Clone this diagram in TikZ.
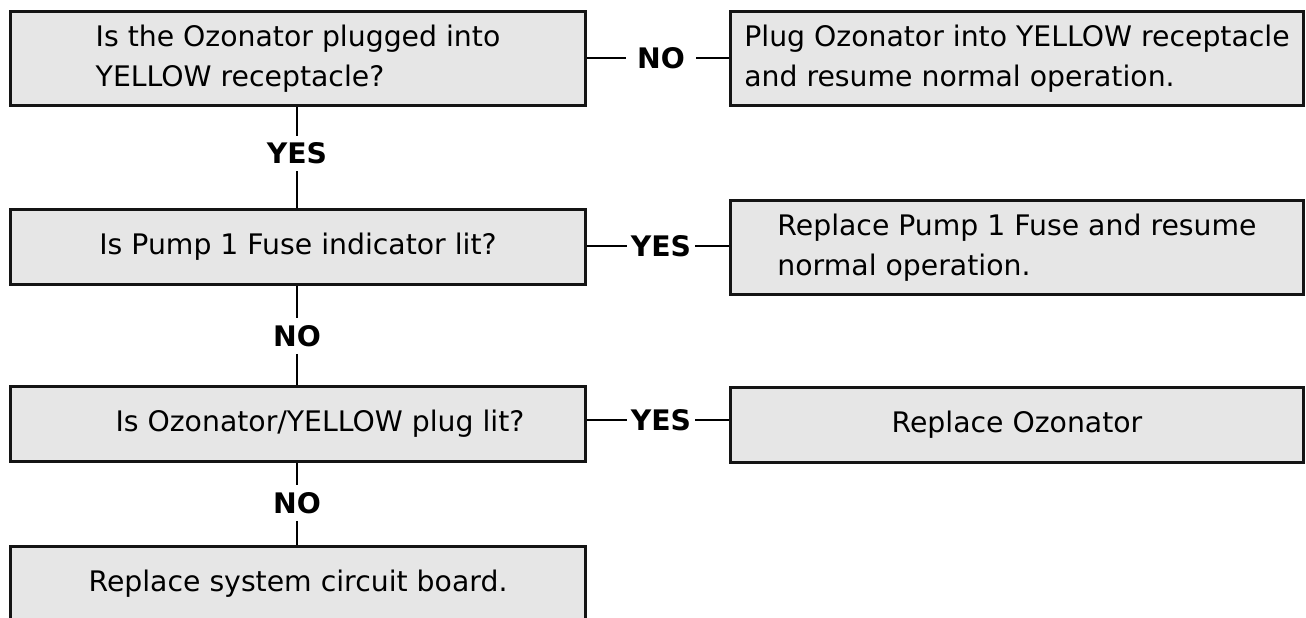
\documentclass[tikz,border=0pt]{standalone}
\usepackage{fontspec}
\setmainfont{DejaVu Sans}
\definecolor{boxgray}{HTML}{E6E6E6}
\definecolor{edgecol}{HTML}{141414}
\begin{document}
\begin{tikzpicture}[x=1pt,y=-1pt,
  box/.style={draw=edgecol, line width=2.8pt, fill=boxgray, align=left,
    inner sep=0pt, font=\fontsize{28.3}{40}\selectfont},
  tallbox/.style={box, minimum height=94.4pt},
  shortbox/.style={box, minimum height=75.4pt},
  leftcol/.style={minimum width=575.4pt},
  rightcol/.style={minimum width=573.4pt},
  lbl/.style={font=\bfseries\fontsize{28.3}{34}\selectfont, inner xsep=4pt, inner ysep=7pt},
  conn/.style={draw=black, line width=2.2pt}]
\useasboundingbox (0,0) rectangle (1306,618);
\clip (0,0) rectangle (1306,618);
\fill[white] (0,0) rectangle (1306,618);

% boxes
\node[tallbox, leftcol] (q1) at (298,58.5) {Is the Ozonator plugged into\\YELLOW receptacle?};
\node[tallbox, rightcol] (a1) at (1017,58.5) {Plug Ozonator into YELLOW receptacle\\and resume normal operation.};
\node[shortbox, leftcol] (q2) at (298,247) {Is Pump 1 Fuse indicator lit?};
\node[tallbox, rightcol] (a2) at (1017,247.5) {Replace Pump 1 Fuse and resume\\normal operation.};
\node[shortbox, leftcol] (q3) at (298,424) {\hspace*{44pt}Is Ozonator/YELLOW plug lit?};
\node[shortbox, rightcol] (a3) at (1017,425) {Replace Ozonator};
\node[shortbox, leftcol] (q4) at (298,584) {Replace system circuit board.};

% labels
\node[lbl, inner xsep=11pt] (h1) at (661,58) {NO};
\node[lbl] (h2) at (661,246) {YES};
\node[lbl] (h3) at (661,420) {YES};
\node[lbl] (v1) at (297,153.5) {YES};
\node[lbl] (v2) at (297,336) {NO};
\node[lbl] (v3) at (297,503) {NO};

% horizontal connectors
\draw[conn] (q1.east |- h1) -- (h1.west);
\draw[conn] (h1.east) -- (a1.west |- h1);
\draw[conn] (q2.east |- h2) -- (h2.west);
\draw[conn] (h2.east) -- (a2.west |- h2);
\draw[conn] (q3.east |- h3) -- (h3.west);
\draw[conn] (h3.east) -- (a3.west |- h3);

% vertical connectors
\draw[conn] (q1.south -| v1) -- (v1.north);
\draw[conn] (v1.south) -- (q2.north -| v1);
\draw[conn] (q2.south -| v2) -- (v2.north);
\draw[conn] (v2.south) -- (q3.north -| v2);
\draw[conn] (q3.south -| v3) -- (v3.north);
\draw[conn] (v3.south) -- (q4.north -| v3);
\end{tikzpicture}
\end{document}
